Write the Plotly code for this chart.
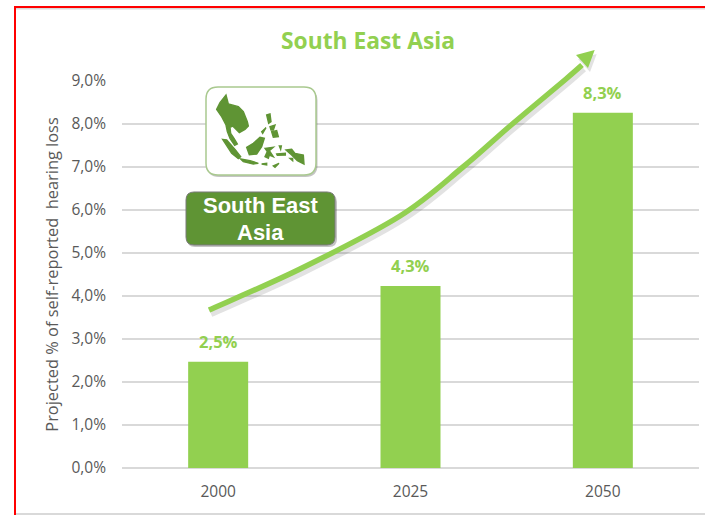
import plotly.graph_objects as go

years = ["2000", "2025", "2050"]
hearing_loss = [2.47, 4.23, 8.26]
bar_labels = ["2,5%", "4,3%", "8,3%"]
title_text = "South East Asia"
y_title = "Projected % of self-reported  hearing loss"
badge_lines = ["South East", "Asia"]

GREEN = "#92d050"
DARK = "#5f9434"
GREY = "#595959"
L, R, T, B = 122, 699, 81, 468


def px(x):
    return (x - L) / (R - L)


def py(y):
    return (B - y) / (B - T)


def P(x, y):
    return f"{px(x):.5f},{py(y):.5f}"


def poly(points):
    return "M" + " L".join(P(x, y) for x, y in points) + " Z"


def rrect(x0, y0, x1, y1, r):
    return (f"M{P(x0 + r, y0)} L{P(x1 - r, y0)} Q{P(x1, y0)} {P(x1, y0 + r)} "
            f"L{P(x1, y1 - r)} Q{P(x1, y1)} {P(x1 - r, y1)} L{P(x0 + r, y1)} "
            f"Q{P(x0, y1)} {P(x0, y1 - r)} L{P(x0, y0 + r)} Q{P(x0, y0)} {P(x0 + r, y0)} Z")


def shape(path, fill, line=None, w=0, op=1.0, layer="above"):
    return dict(type="path", xref="paper", yref="paper", path=path, fillcolor=fill,
                line=dict(color=line or "rgba(0,0,0,0)", width=w), opacity=op, layer=layer)


def rect(x0, y0, x1, y1, fill):
    return dict(type="rect", xref="paper", yref="paper", x0=px(x0), x1=px(x1), y0=py(y0), y1=py(y1),
                fillcolor=fill, line=dict(width=0), layer="below")


curve = [(209, 310), (300, 269), (400, 216), (463, 167), (510, 126), (566, 79), (582, 65)]


def curve_path(dx=0, dy=0):
    pts = [(x + dx, y + dy) for x, y in curve]
    out = "M" + P(*pts[0])
    for i in range(len(pts) - 1):
        p0 = pts[max(i - 1, 0)]
        p1 = pts[i]
        p2 = pts[i + 1]
        p3 = pts[min(i + 2, len(pts) - 1)]
        c1 = (p1[0] + (p2[0] - p0[0]) / 6, p1[1] + (p2[1] - p0[1]) / 6)
        c2 = (p2[0] - (p3[0] - p1[0]) / 6, p2[1] - (p3[1] - p1[1]) / 6)
        out += f" C{P(*c1)} {P(*c2)} {P(*p2)}"
    return out


def head(dx=0, dy=0):
    return poly([(x + dx, y + dy) for x, y in [(594.7, 50), (576, 55), (581.7, 61), (588, 68)]])


def m(points):
    return poly([(210 + x / 3, 90 + y / 3) for x, y in points])


islands = [
    [(20, 58), (30, 38), (48, 15), (55, 42), (85, 50), (100, 65), (112, 95), (115, 108), (105, 118), (88, 128),
     (78, 118), (68, 108), (60, 112), (62, 130), (72, 145), (82, 162), (74, 166), (60, 145), (52, 125), (48, 105),
     (35, 80)],
    [(38, 148), (50, 150), (75, 178), (92, 200), (85, 206), (65, 190)],
    [(92, 207), (120, 212), (145, 220), (130, 222), (100, 215)],
    [(110, 172), (130, 160), (150, 142), (163, 145), (155, 170), (140, 192), (118, 194)],
    [(165, 175), (190, 172), (178, 182), (190, 200), (178, 195), (175, 205), (165, 200), (172, 185)],
    [(170, 75), (180, 72), (183, 95), (176, 100)],
    [(180, 110), (195, 105), (190, 120), (183, 120)],
    [(185, 125), (200, 122), (205, 140), (190, 142)],
    [(155, 125), (168, 113), (158, 130)],
    [(228, 180), (245, 178), (255, 190), (280, 195), (282, 222), (262, 212), (245, 195)],
    [(200, 192), (226, 190), (226, 195), (202, 196)],
    [(155, 222), (170, 220), (170, 225)],
    [(190, 228), (207, 220), (195, 232)],
    [(208, 168), (214, 168), (212, 178)],
    [(240, 205), (248, 205), (248, 212)],
]

shapes = [
    rect(14, 6, 705, 8, "#ff0000"),
    rect(14, 6, 16, 515, "#ff0000"),
    rect(16, 8, 705, 9.5, "#d9d9d9"),
    rect(16, 513, 705, 515, "#d9d9d9"),
    shape(curve_path(2, 4), "rgba(0,0,0,0)", "rgba(60,60,60,0.15)", 6),
    shape(curve_path(), "rgba(0,0,0,0)", GREEN, 5.5),
    shape(head(2, 4), "rgba(60,60,60,0.15)"),
    shape(head(), GREEN),
    shape(rrect(207, 89, 317.5, 177, 12), "rgba(60,60,60,0.3)"),
    shape(rrect(206, 87, 316, 175, 12), "#ffffff", "#a9c98f", 1.5),
    shape(rrect(187, 194, 337, 247, 8), "rgba(60,60,60,0.3)"),
    shape(rrect(186, 192, 335, 245, 8), DARK, "#7a7a7a", 1),
]
shapes += [shape(m(i), DARK, DARK, 1.4) for i in islands]

fig = go.Figure(go.Bar(x=years, y=hearing_loss, marker=dict(color=GREEN, line=dict(width=0)), width=0.312))

annotations = [
    dict(x=i, y=v, text=t, xref="x", yref="y", showarrow=False, xanchor="center", yanchor="bottom", yshift=7,
         font=dict(family="Open Sans", size=16.5, color=GREEN, weight="bold"))
    for i, (v, t) in enumerate(zip(hearing_loss, bar_labels))
]
annotations += [
    dict(x=px(260.5), y=py(y), xref="paper", yref="paper", text=t, showarrow=False, xanchor="center",
         yanchor="middle", font=dict(family="Liberation Sans", size=22, color="#ffffff", weight="bold"))
    for t, y in zip(badge_lines, [206, 232])
]

fig.update_layout(
    width=705, height=515, margin=dict(l=L, r=705 - R, t=T, b=515 - B),
    paper_bgcolor="#ffffff", plot_bgcolor="#ffffff", separators=",.", showlegend=False,
    title=dict(text=title_text, x=368 / 705, y=1 - 41 / 515, xanchor="center", yanchor="middle",
               font=dict(family="Open Sans", size=22.8, color=GREEN, weight="bold")),
    xaxis=dict(type="category", range=[-0.5, 2.5], tickfont=dict(family="Open Sans", size=15.5, color=GREY),
               showgrid=False, showline=False, ticks="", zeroline=False, ticklabelstandoff=12),
    yaxis=dict(range=[0, 9], dtick=1, tickformat=".1f", ticksuffix="%", gridcolor="#d9d9d9", gridwidth=2,
               zeroline=True, zerolinecolor="#d9d9d9", zerolinewidth=2, showline=False, ticks="",
               ticklabelstandoff=15,
               tickfont=dict(family="Open Sans", size=15.5, color=GREY),
               title=dict(text=y_title, font=dict(family="Open Sans", size=16.4, color=GREY), standoff=8)),
    shapes=shapes, annotations=annotations,
)
fig.write_html("out.html", post_script="document.body.style.margin='0';", config={"displayModeBar": False})
